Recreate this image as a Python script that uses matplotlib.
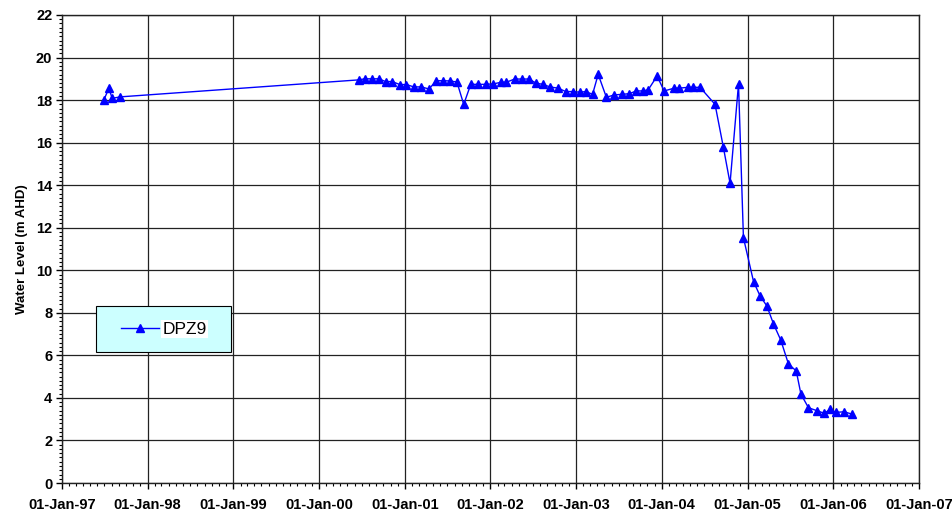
import matplotlib.pyplot as plt
import matplotlib.dates as mdates
from matplotlib.ticker import MultipleLocator
from matplotlib.patches import Rectangle
import pandas as pd

plt.rcParams['font.family'] = ['Liberation Sans', 'DejaVu Sans']

# DPZ9 water level readings
dates = [
    '1997-06-28', '1997-07-20', '1997-08-03', '1997-09-05',
    '2000-06-19', '2000-07-14', '2000-08-14', '2000-09-12', '2000-10-11', '2000-11-08', '2000-12-11',
    '2001-01-08', '2001-02-08', '2001-03-13', '2001-04-14', '2001-05-15', '2001-06-13',
    '2001-07-11', '2001-08-11', '2001-09-09', '2001-10-09', '2001-11-09', '2001-12-11',
    '2002-01-12', '2002-02-17', '2002-03-10', '2002-04-14', '2002-05-15', '2002-06-13',
    '2002-07-16', '2002-08-13', '2002-09-11', '2002-10-16', '2002-11-18', '2002-12-19',
    '2003-01-17', '2003-02-11', '2003-03-12', '2003-04-05', '2003-05-10', '2003-06-11',
    '2003-07-14', '2003-08-15', '2003-09-15', '2003-10-11', '2003-11-04', '2003-12-12',
    '2004-01-11', '2004-02-23', '2004-03-16', '2004-04-20', '2004-05-11', '2004-06-12',
    '2004-08-15', '2004-09-19', '2004-10-18', '2004-11-23', '2004-12-14',
    '2005-01-26', '2005-02-23', '2005-03-24', '2005-04-21', '2005-05-22', '2005-06-24',
    '2005-07-27', '2005-08-16', '2005-09-17', '2005-10-23', '2005-11-23', '2005-12-19',
    '2006-01-13', '2006-02-16', '2006-03-21',
]
levels = [
    18.00, 18.55, 18.08, 18.15,
    18.95, 19.00, 19.00, 19.00, 18.87, 18.87, 18.73,
    18.73, 18.62, 18.62, 18.52, 18.91, 18.91,
    18.90, 18.85, 17.80, 18.74, 18.74, 18.74,
    18.76, 18.84, 18.84, 18.99, 18.99, 18.99,
    18.79, 18.74, 18.62, 18.56, 18.40, 18.40,
    18.37, 18.40, 18.27, 19.21, 18.13, 18.24,
    18.27, 18.30, 18.43, 18.43, 18.48, 19.13,
    18.43, 18.56, 18.56, 18.60, 18.60, 18.60,
    17.80, 15.81, 14.09, 18.76, 11.53,
    9.47, 8.79, 8.32, 7.48, 6.72, 5.59,
    5.27, 4.18, 3.54, 3.40, 3.28, 3.46,
    3.32, 3.35, 3.24,
]
dates = pd.to_datetime(dates)

fig = plt.figure(figsize=(9.52, 5.15), dpi=100)
ax = fig.add_axes([0.0651, 0.0621, 0.9002, 0.9088])

ax.plot(dates, levels, color='#0000FF', lw=1, marker='^', ms=6,
        mec='#0000FF', mfc='#0000FF', label='DPZ9')

ax.set_xlim(pd.Timestamp('1997-01-01'), pd.Timestamp('2007-01-01'))
ax.set_ylim(0, 22)

ax.xaxis.set_major_locator(mdates.YearLocator())
ax.xaxis.set_minor_locator(mdates.MonthLocator())
ax.xaxis.set_major_formatter(mdates.DateFormatter('%d-%b-%y'))
ax.yaxis.set_major_locator(MultipleLocator(2))
ax.yaxis.set_minor_locator(MultipleLocator(0.2))

ax.grid(True, which='major', color='#222222', lw=0.9)
ax.tick_params(which='major', direction='out', length=4, width=1, labelsize=10.5, pad=7)
ax.tick_params(which='minor', direction='out', length=2.5, width=0.8)
for lab in ax.get_xticklabels() + ax.get_yticklabels():
    lab.set_fontweight('bold')
ax.tick_params(axis='y', pad=3)
for s in ax.spines.values():
    s.set_color('#222222')
    s.set_linewidth(1)

ax.set_ylabel('Water Level (m AHD)', fontsize=9.5, fontweight='bold', labelpad=6)

# legend box drawn as a patch, legend itself frameless and centred in it
box = Rectangle((0.0397, 0.28), 0.1575, 0.098, transform=ax.transAxes,
                facecolor='#CCFFFF', edgecolor='black', lw=0.8, zorder=4)
ax.add_patch(box)
leg = ax.legend(loc='center', bbox_to_anchor=(0.0397 + 0.1575 / 2, 0.28 + 0.098 / 2),
                frameon=False, fontsize=12.5, handlelength=2.2, handletextpad=0.2,
                borderpad=0, borderaxespad=0)
leg.set_zorder(5)
for t in leg.get_texts():
    t.set_bbox(dict(facecolor='white', edgecolor='none', pad=1))

fig.savefig('out.png', dpi=100)
